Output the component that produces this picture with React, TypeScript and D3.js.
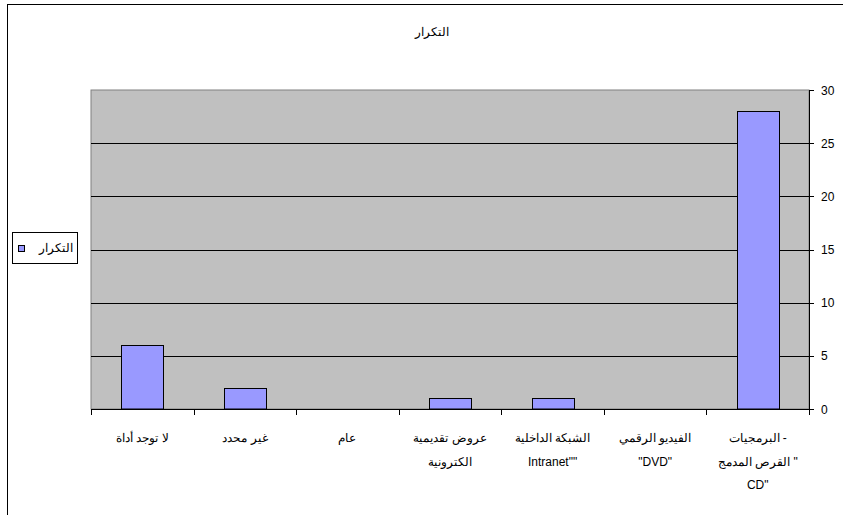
import React from "react";
import * as d3 from "d3";

// Categories in original (right-to-left) order, each split into display lines
const categories: string[][] = [
  ["البرمجيات -", "القرص المدمج \"", "CD\""],
  ["الفيديو الرقمي", "\"DVD\""],
  ["الشبكة الداخلية", "Intranet\"\""],
  ["عروض تقديمية", "الكترونية"],
  ["عام"],
  ["غير محدد"],
  ["لا توجد أداة"],
];
const values: number[] = [28, 0, 1, 1, 0, 2, 6];
const yTicks: number[] = [0, 5, 10, 15, 20, 25, 30];
const seriesName = "التكرار";
const title = "التكرار";

const W = 843;
const H = 515;
const plot = { left: 91, right: 809, top: 90, bottom: 409 };
const FONT = "'Liberation Sans', Arial, sans-serif";
const LRM = "\u200E";

export default function App() {
  const x = d3
    .scaleBand<number>()
    .domain(categories.map((_, i) => i))
    .range([plot.right, plot.left])
    .padding(0);
  const y = d3.scaleLinear().domain([0, 30]).range([plot.bottom, plot.top]);
  const bw = x.bandwidth();
  const barW = bw * 0.41;
  const step = x.step();
  const tickXs = d3.range(categories.length + 1).map((i) => plot.left + i * step);

  return (
    <svg
      width={W}
      height={H}
      style={{ position: "absolute", left: 0, top: 0, background: "#fff" }}
      fontFamily={FONT}
    >
      <rect x={0} y={0} width={W} height={H} fill="#fff" />
      {/* outer frame (partially off-canvas) */}
      <rect x={7.5} y={4.5} width={900} height={600} fill="none" stroke="#000" strokeWidth={1} />

      {/* title */}
      <text x={432} y={36} fontSize={12} textAnchor="middle" fill="#000">
        {title}
      </text>

      {/* plot area */}
      <rect
        x={plot.left}
        y={plot.top}
        width={plot.right - plot.left}
        height={plot.bottom - plot.top}
        fill="#C0C0C0"
        stroke="#808080"
        strokeWidth={1}
      />
      {/* gridlines */}
      {yTicks
        .filter((t) => t > 0 && t < 30)
        .map((t) => (
          <line
            key={"g" + t}
            x1={plot.left}
            x2={plot.right}
            y1={Math.round(y(t)) + 0.5}
            y2={Math.round(y(t)) + 0.5}
            stroke="#000"
            strokeWidth={1}
          />
        ))}

      {/* bars */}
      {values.map((v, i) => {
        if (v <= 0) return null;
        const cx = (x(i) as number) + bw / 2;
        const top = Math.round(y(v)) + 0.5;
        return (
          <rect
            key={"b" + i}
            x={Math.round(cx - barW / 2) + 0.5}
            y={top}
            width={Math.round(barW)}
            height={plot.bottom - top}
            fill="#9999FF"
            stroke="#000"
            strokeWidth={1}
          />
        );
      })}

      {/* right y axis */}
      <line x1={plot.right + 0.5} x2={plot.right + 0.5} y1={plot.top} y2={plot.bottom} stroke="#000" />
      {yTicks.map((t) => (
        <g key={"yt" + t}>
          <line
            x1={plot.right}
            x2={plot.right + 5}
            y1={Math.round(y(t)) + 0.5}
            y2={Math.round(y(t)) + 0.5}
            stroke="#000"
          />
          <text x={821} y={y(t) + 4.5} fontSize={12} fill="#000">
            {t}
          </text>
        </g>
      ))}

      {/* bottom x axis */}
      <line x1={plot.left} x2={plot.right + 1} y1={plot.bottom + 0.5} y2={plot.bottom + 0.5} stroke="#000" />
      {tickXs.map((tx, i) => (
        <line
          key={"xt" + i}
          x1={Math.round(tx) + 0.5}
          x2={Math.round(tx) + 0.5}
          y1={plot.bottom}
          y2={plot.bottom + 6}
          stroke="#000"
        />
      ))}
      {categories.map((lines, i) => {
        const cx = (x(i) as number) + bw / 2;
        return (
          <g key={"xl" + i}>
            {lines.map((ln, j) => (
              <text
                key={j}
                x={cx}
                y={442 + j * 23.5}
                fontSize={12}
                textAnchor="middle"
                fill="#000"
                direction="ltr"
              >
                {LRM + ln + LRM}
              </text>
            ))}
          </g>
        );
      })}

      {/* legend */}
      <rect x={12.5} y={232.5} width={65} height={31} fill="#fff" stroke="#000" strokeWidth={1} />
      <rect x={18.5} y={245.5} width={6} height={6} fill="#9999FF" stroke="#000" strokeWidth={1} />
      <text x={73} y={252} fontSize={12} textAnchor="end" fill="#000">
        {seriesName}
      </text>
    </svg>
  );
}
